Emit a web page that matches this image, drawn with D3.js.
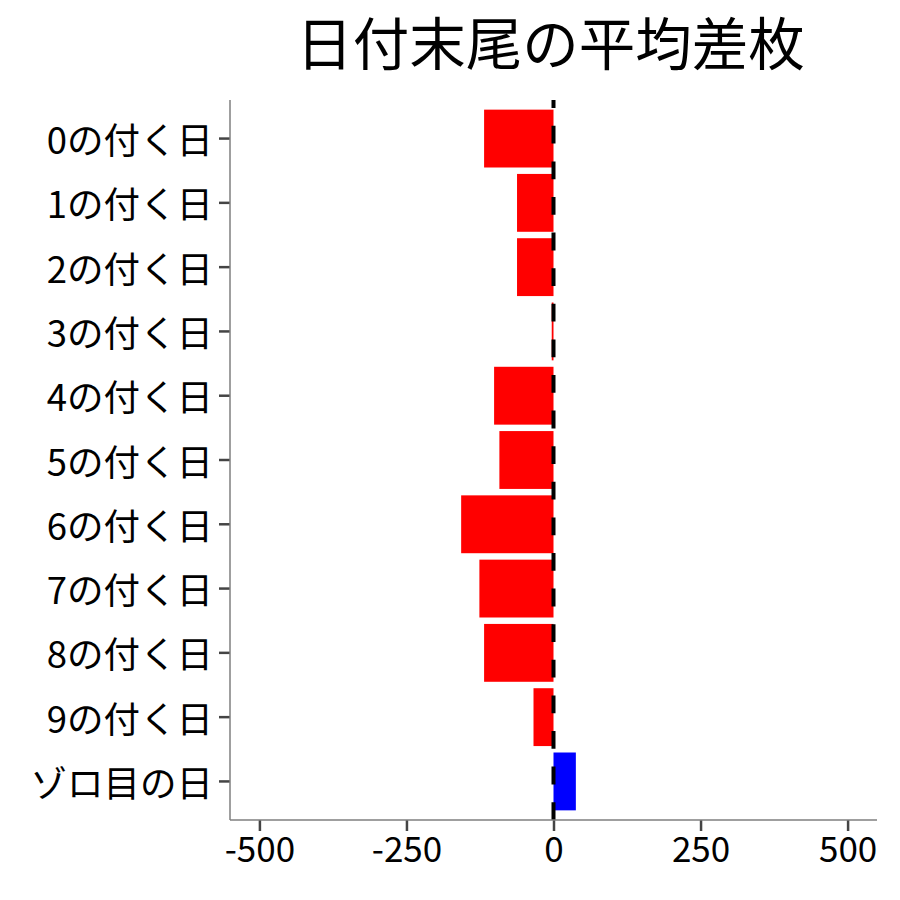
<!DOCTYPE html>
<html>
<head>
<meta charset="utf-8">
<script src="https://cdn.jsdelivr.net/npm/d3@7"></script>
<style>
  html, body { margin: 0; padding: 0; background: #fff; }
  #chart { width: 900px; height: 900px; }
</style>
</head>
<body>
<div id="chart"></div>
<script>
// data
const categories = ["0の付く日","1の付く日","2の付く日","3の付く日","4の付く日","5の付く日","6の付く日","7の付く日","8の付く日","9の付く日","ゾロ目の日"];
const values = [-118, -62, -62, -3, -101, -92, -157, -126, -118, -34, 38];
const xTicks = [-500, -250, 0, 250, 500];
const xDomain = [-550, 550];
const title = "日付末尾の平均差枚";

const width = 900, height = 900;
const panel = {left: 230, right: 877, top: 100, bottom: 820};
const font = "'Noto Sans CJK JP', 'Noto Sans', sans-serif";

const svg = d3.select("#chart").append("svg")
  .attr("width", width)
  .attr("height", height)
  .style("font-family", font);

const x = d3.scaleLinear().domain(xDomain).range([panel.left, panel.right]);
const y = d3.scaleBand()
  .domain(categories)
  .range([panel.top, panel.bottom])
  .paddingInner(0.1)
  .paddingOuter(0.15);

const rows = categories.map((c, i) => ({name: c, value: values[i]}));

// bars
svg.append("g")
  .selectAll("rect")
  .data(rows)
  .join("rect")
    .attr("x", d => x(Math.min(0, d.value)))
    .attr("width", d => Math.abs(x(d.value) - x(0)))
    .attr("y", d => y(d.name))
    .attr("height", y.bandwidth())
    .attr("fill", d => d.value < 0 ? "#ff0000" : "#0000ff");

// zero line, drawn bottom to top like the reference
svg.append("line")
  .attr("x1", x(0)).attr("x2", x(0))
  .attr("y1", panel.bottom).attr("y2", panel.top)
  .attr("stroke", "#000")
  .attr("stroke-width", 4)
  .attr("stroke-dasharray", "17.8 17.8");

// axes
const axisColor = "#7f7f7f";
const tickColor = "#444";

const xAxis = svg.append("g")
  .attr("transform", `translate(0,${panel.bottom})`)
  .call(d3.axisBottom(x).tickValues(xTicks).tickSize(11).tickPadding(6).tickFormat(d => String(d)));
xAxis.select(".domain").remove();
xAxis.selectAll(".tick line").attr("stroke", tickColor).attr("stroke-width", 2.5);
xAxis.selectAll(".tick text")
  .attr("fill", "#000")
  .style("font-family", font)
  .style("font-size", "35px");

const yAxis = svg.append("g")
  .attr("transform", `translate(${panel.left},0)`)
  .call(d3.axisLeft(y).tickSize(11).tickPadding(6));
yAxis.select(".domain").remove();
yAxis.selectAll(".tick line").attr("stroke", tickColor).attr("stroke-width", 2.5);
yAxis.selectAll(".tick text")
  .attr("fill", "#000")
  .attr("dy", null)
  .attr("dominant-baseline", "central")
  .style("font-family", font)
  .style("font-size", "36.5px");

// axis lines
svg.append("line")
  .attr("x1", panel.left).attr("x2", panel.left)
  .attr("y1", panel.top).attr("y2", panel.bottom)
  .attr("stroke", axisColor).attr("stroke-width", 1.5);
svg.append("line")
  .attr("x1", panel.left).attr("x2", panel.right)
  .attr("y1", panel.bottom).attr("y2", panel.bottom)
  .attr("stroke", axisColor).attr("stroke-width", 1.5);

// title
svg.append("text")
  .attr("x", (panel.left + panel.right) / 2 - 3)
  .attr("y", 65)
  .attr("text-anchor", "middle")
  .attr("fill", "#000")
  .style("font-size", "56.5px")
  .text(title);
</script>
</body>
</html>
